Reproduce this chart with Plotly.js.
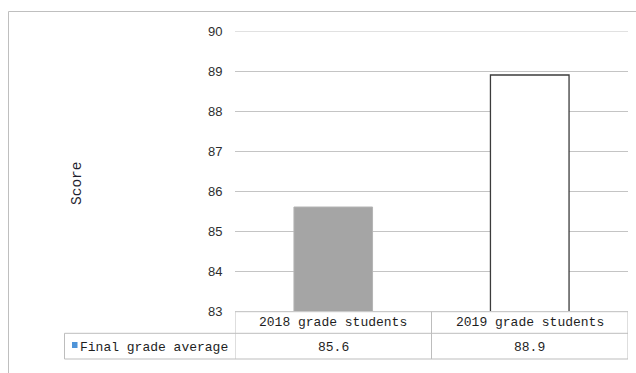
<!DOCTYPE html>
<html>
<head>
<meta charset="utf-8">
<script src="https://cdn.plot.ly/plotly-3.0.1.min.js"></script>
<style>
  html, body { margin: 0; padding: 0; background: #fff; }
  #chart { width: 636px; height: 373px; }
</style>
</head>
<body>
<div id="chart"></div>
<script>
// Chart data
const categories = ['2018 grade students', '2019 grade students'];
const averages = [85.6, 88.9];
const seriesName = 'Final grade average';
const yTicks = [83, 84, 85, 86, 87, 88, 89, 90];
const axisTitle = 'Score';

// Styling
const barFills = ['#a5a5a5', '#ffffff'];
const barEdges = ['#b4b4b4', '#3c3c3c'];
const gridColor = '#c4c4c4';
const tableLine = '#bdbdbd';
const monoFont = '"Liberation Mono", "DejaVu Sans Mono", monospace';

// Plot area geometry (px) used to convert table positions to paper units
const W = 636, H = 373;
const M = { l: 235, r: 8, t: 31, b: 62 };
const PW = W - M.l - M.r, PH = H - M.t - M.b;
const px = x => (x - M.l) / PW;
const py = y => (H - M.b - y) / PH;

const trace = {
  type: 'bar',
  x: categories.map((_, i) => i),
  y: averages,
  name: seriesName,
  marker: {
    color: barFills,
    line: { color: barEdges, width: [1, 1.3] }
  },
  hoverinfo: 'skip'
};

const shapes = [];
const annotations = [];
const line = (x0, y0, x1, y1, xref, yref, color) => shapes.push({
  type: 'line', xref: xref || 'paper', yref: yref || 'paper', layer: 'below',
  x0, y0, x1, y1, line: { color: color || tableLine, width: 1 }
});

// Top gridline sits on the range edge, so it is drawn explicitly
const yTop = yTicks[yTicks.length - 1];
line(0, yTop, 1, yTop, 'paper', 'y', gridColor);

// Data table under the plot
const yHead = py(311.7), yMid = py(333.3), yBot = py(359);
const xLeft = px(64.5);
const lastEdge = categories.length - 0.5;

line(-0.5, yHead, lastEdge, yHead, 'x');
line(xLeft, yMid, 1, yMid);
line(xLeft, yBot, 1, yBot);
line(xLeft, yMid, xLeft, yBot);
categories.forEach((_, i) => line(i - 0.5, yHead, i - 0.5, yBot, 'x'));
line(lastEdge, yHead, lastEdge, yBot, 'x');

// Legend key in the table's first column
shapes.push({
  type: 'rect', xref: 'paper', yref: 'paper',
  x0: px(72), x1: px(77.5), y0: py(342), y1: py(348),
  fillcolor: '#4f94d8', line: { width: 0 }
});
annotations.push({
  xref: 'paper', yref: 'paper', x: px(78), y: py(347.5),
  xanchor: 'left', yanchor: 'middle', showarrow: false,
  text: seriesName, font: { family: monoFont, size: 13, color: '#1e1e1e' }
});

categories.forEach((c, i) => {
  annotations.push({
    xref: 'x', yref: 'paper', x: i, y: py(322.8),
    xanchor: 'center', yanchor: 'middle', showarrow: false,
    text: c, font: { family: monoFont, size: 13, color: '#1e1e1e' }
  });
  annotations.push({
    xref: 'x', yref: 'paper', x: i, y: py(347.5),
    xanchor: 'center', yanchor: 'middle', showarrow: false,
    text: String(averages[i]), font: { family: monoFont, size: 13, color: '#1e1e1e' }
  });
});

// Y axis title
annotations.push({
  xref: 'paper', yref: 'paper', x: px(77), y: py(183),
  xanchor: 'center', yanchor: 'middle', textangle: -90, showarrow: false,
  text: axisTitle, font: { family: monoFont, size: 14.5, color: '#1e1e2e' }
});

// Outer chart frame
shapes.push({
  type: 'rect', xref: 'paper', yref: 'paper', layer: 'below',
  x0: px(8.5), x1: px(640), y0: py(380), y1: py(11.5),
  line: { color: '#bfbfbf', width: 1 }, fillcolor: 'rgba(0,0,0,0)'
});

const layout = {
  width: W, height: H,
  margin: M,
  paper_bgcolor: '#ffffff',
  plot_bgcolor: 'rgba(0,0,0,0)',
  showlegend: false,
  bargap: 0.6,
  xaxis: {
    range: [-0.5, lastEdge],
    showticklabels: false, showgrid: false, zeroline: false,
    showline: false, ticks: '', fixedrange: true
  },
  yaxis: {
    range: [yTicks[0], yTop],
    tickvals: yTicks,
    ticktext: yTicks.map(String),
    showgrid: true, gridcolor: gridColor, gridwidth: 1,
    zeroline: false, showline: false,
    ticks: 'outside', ticklen: 9, tickcolor: 'rgba(0,0,0,0)',
    tickfont: { family: '"Liberation Sans", Arial, sans-serif', size: 13, color: '#2e2e2e' },
    fixedrange: true
  },
  shapes, annotations
};

Plotly.newPlot('chart', [trace], layout, { displayModeBar: false, staticPlot: true });
</script>
</body>
</html>
